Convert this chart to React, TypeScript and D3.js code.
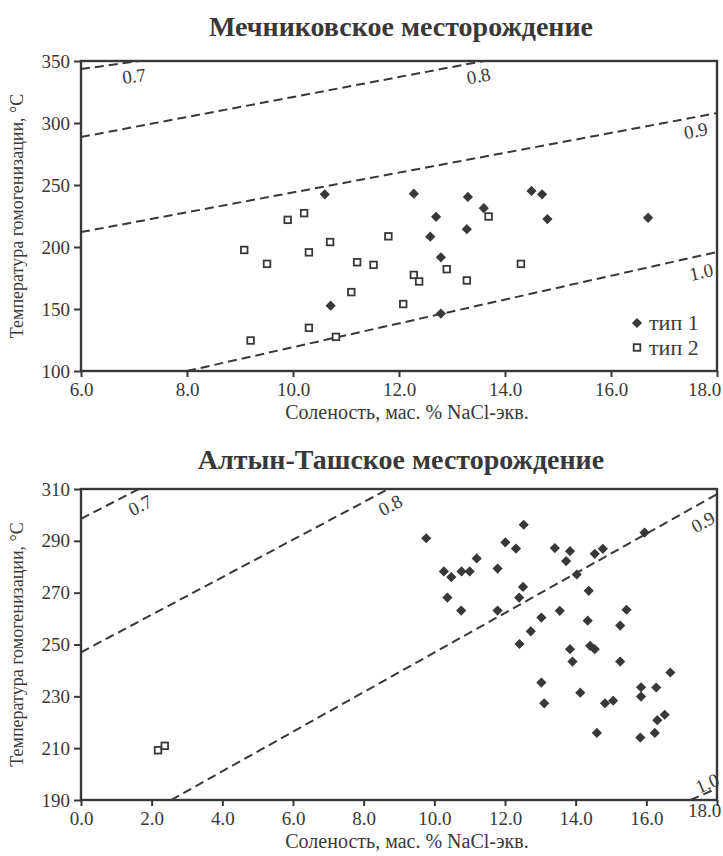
import { useEffect, useRef } from 'react'
import * as d3 from 'd3'

type Pt = [number, number]

// Мечниковское месторождение: [соленость, температура]
const mechType1: Pt[] = [
  [10.6, 242.5], [10.71, 152.7], [12.28, 243.0], [13.3, 240.4], [13.6, 231.3],
  [12.7, 224.3], [14.5, 245.2], [14.7, 242.5], [14.8, 222.5], [16.7, 223.5],
  [13.28, 214.4], [12.59, 208.3], [12.79, 191.7], [12.79, 146.3],
]
const mechType2: Pt[] = [
  [9.9, 221.9], [10.21, 227.3], [9.08, 197.6], [9.51, 186.4], [10.3, 195.7],
  [10.7, 204.0], [11.8, 208.6], [11.21, 187.7], [11.52, 185.6], [11.1, 163.6],
  [9.2, 124.6], [10.3, 134.8], [10.81, 127.5], [13.69, 224.6], [12.9, 182.1],
  [12.28, 177.5], [12.38, 172.2], [13.28, 173.0], [14.3, 186.4], [12.08, 154.0],
]
const mechIsoLines: Pt[][] = [
  [[6, 343.5], [7.1, 350]],
  [[6, 288.7], [13.6, 350]],
  [[6, 212], [18, 308]],
  [[8, 100], [18, 196]],
]
const mechIsoLabelPos: Pt[] = [[7.0, 338], [13.5, 338], [17.6, 294], [17.7, 180]]
const mechXTicks = [6, 8, 10, 12, 14, 16, 18]
const mechYTicks = [100, 150, 200, 250, 300, 350]

// Алтын-Ташское месторождение
const altType1: Pt[] = [
  [9.77, 291.0], [12.53, 296.2], [10.27, 278.2], [10.48, 276.0], [10.77, 278.2],
  [11.0, 278.2], [11.2, 283.2], [12.01, 289.4], [12.31, 287.0], [11.79, 279.3],
  [13.41, 287.2], [13.84, 286.0], [13.73, 282.2], [14.54, 285.0], [14.77, 286.9],
  [15.95, 293.2], [14.03, 277.0], [12.51, 272.2], [12.4, 268.1], [10.37, 268.1],
  [10.76, 263.1], [11.79, 263.1], [14.37, 270.7], [13.03, 260.4], [13.55, 263.0],
  [12.73, 255.1], [14.34, 259.2], [15.44, 263.4], [15.26, 257.3], [12.41, 250.2],
  [13.84, 248.2], [14.41, 249.5], [14.54, 248.2], [13.91, 243.4], [15.26, 243.4],
  [16.68, 239.2], [13.03, 235.3], [15.85, 233.5], [16.28, 233.4], [15.85, 229.9],
  [14.13, 231.4], [13.11, 227.3], [14.83, 227.3], [15.06, 228.3], [14.6, 215.9],
  [15.83, 214.1], [16.24, 215.9], [16.31, 220.8], [16.52, 222.9],
]
const altType2: Pt[] = [[2.18, 209.2], [2.37, 210.9]]
const altIsoLines: Pt[][] = [
  [[0, 298.5], [1.64, 310]],
  [[0, 247], [8.7, 310]],
  [[2.55, 190], [18, 308]],
  [[17.25, 190], [18, 194.5]],
]
const altIsoLabelPos: Pt[] = [[1.67, 303.8], [8.75, 303.8], [17.6, 297.3], [17.72, 196.5]]
const altXTicks = [0, 2, 4, 6, 8, 10, 12, 14, 16, 18]
const altYTicks = [190, 210, 230, 250, 270, 290, 310]

const isoLabels = ['0.7', '0.8', '0.9', '1.0']

const INK = '#383838'
const FONT = "'Liberation Serif', 'Times New Roman', serif"
const X_TITLE = 'Соленость, мас. % NaCl-экв.'
const Y_TITLE = 'Температура гомогенизации, °С'

interface PanelCfg {
  id: string
  title: string
  titleY: number
  top: number
  bottom: number
  xDomain: Pt
  yDomain: Pt
  xTicks: number[]
  yTicks: number[]
  type1: Pt[]
  type2: Pt[]
  iso: Pt[][]
  isoPos: Pt[]
  legend: boolean
  lastX: Pt // сдвиг подписи последнего деления по x (dx, dy)
}

const L = 81, R = 717

function drawPanel(svg: d3.Selection<SVGSVGElement, unknown, null, undefined>, c: PanelCfg) {
  const x = d3.scaleLinear().domain(c.xDomain).range([L, R])
  const y = d3.scaleLinear().domain(c.yDomain).range([c.bottom, c.top])
  const g = svg.append('g')

  g.append('clipPath').attr('id', 'clip-' + c.id)
    .append('rect').attr('x', L).attr('y', c.top).attr('width', R - L).attr('height', c.bottom - c.top)

  g.append('text')
    .attr('x', (L + R) / 2 + 2).attr('y', c.titleY)
    .attr('text-anchor', 'middle')
    .attr('font-family', FONT).attr('font-weight', 700).attr('font-size', 28)
    .attr('fill', INK)
    .text(c.title)

  // изохоры
  const line = d3.line<Pt>().x(d => x(d[0])).y(d => y(d[1]))
  g.append('g').attr('clip-path', `url(#clip-${c.id})`)
    .selectAll('path')
    .data(c.iso)
    .join('path')
    .attr('d', d => line(d))
    .attr('fill', 'none')
    .attr('stroke', INK)
    .attr('stroke-width', 2)
    .attr('stroke-dasharray', '9,5')

  g.selectAll('.iso-label')
    .data(c.isoPos)
    .join('text')
    .attr('class', 'iso-label')
    .attr('transform', (d, i) => {
      const seg = c.iso[i]
      const ang = Math.atan2(y(seg[1][1]) - y(seg[0][1]), x(seg[1][0]) - x(seg[0][0])) * 180 / Math.PI
      return `translate(${x(d[0])},${y(d[1])}) rotate(${ang})`
    })
    .attr('text-anchor', 'middle')
    .attr('dy', '0.35em')
    .attr('font-family', FONT).attr('font-size', 19)
    .attr('fill', INK)
    .text((_, i) => isoLabels[i])

  // точки
  const diamond = d3.symbol().type(d3.symbolSquare).size(52)
  g.selectAll('.t1')
    .data(c.type1)
    .join('path')
    .attr('class', 't1')
    .attr('d', diamond)
    .attr('transform', d => `translate(${x(d[0])},${y(d[1])}) rotate(45)`)
    .attr('fill', INK)

  g.selectAll('.t2')
    .data(c.type2)
    .join('rect')
    .attr('class', 't2')
    .attr('x', d => x(d[0]) - 3.3).attr('y', d => y(d[1]) - 3.3)
    .attr('width', 6.6).attr('height', 6.6)
    .attr('fill', '#fff').attr('stroke', INK).attr('stroke-width', 1.8)

  // рамка
  g.append('rect')
    .attr('x', L).attr('y', c.top).attr('width', R - L).attr('height', c.bottom - c.top)
    .attr('fill', 'none').attr('stroke', INK).attr('stroke-width', 2.4)

  const xAxis = g.append('g')
    .attr('transform', `translate(0,${c.bottom})`)
    .call(d3.axisBottom(x).tickValues(c.xTicks).tickFormat(d3.format('.1f')).tickSize(6).tickPadding(6))
  const yAxis = g.append('g')
    .attr('transform', `translate(${L},0)`)
    .call(d3.axisLeft(y).tickValues(c.yTicks).tickFormat(d3.format('d')).tickSize(7).tickPadding(4))

  for (const ax of [xAxis, yAxis]) {
    ax.attr('font-family', FONT)
    ax.select('.domain').remove()
    ax.selectAll('line').attr('stroke', INK).attr('stroke-width', 2)
    ax.selectAll('text').attr('font-family', FONT).attr('font-size', 19).attr('fill', INK)
  }
  xAxis.selectAll<SVGTextElement, number>('text')
    .filter(d => d === c.xTicks[c.xTicks.length - 1])
    .attr('dx', c.lastX[0])
    .attr('y', 12 + c.lastX[1])

  g.append('text')
    .attr('x', (L + R) / 2 + 8).attr('y', c.bottom + 48)
    .attr('text-anchor', 'middle')
    .attr('font-family', FONT).attr('font-size', 20).attr('fill', INK)
    .text(X_TITLE)

  g.append('text')
    .attr('transform', `translate(23,${(c.top + c.bottom) / 2}) rotate(-90)`)
    .attr('text-anchor', 'middle')
    .attr('font-family', FONT).attr('font-size', 18).attr('fill', INK)
    .text(Y_TITLE)

  if (c.legend) {
    const lg = g.append('g')
    const lx = 637, ly = 323
    lg.append('path').attr('d', diamond).attr('transform', `translate(${lx},${ly}) rotate(45)`).attr('fill', INK)
    lg.append('rect').attr('x', lx - 3.3).attr('y', ly + 24.5 - 3.3).attr('width', 6.6).attr('height', 6.6)
      .attr('fill', '#fff').attr('stroke', INK).attr('stroke-width', 1.8)
    lg.selectAll('text')
      .data(['тип 1', 'тип 2'])
      .join('text')
      .attr('x', lx + 12).attr('y', (_, i) => ly + 7 + i * 24.5)
      .attr('font-family', FONT).attr('font-size', 22).attr('fill', INK)
      .text(d => d)
  }
}

export default function App() {
  const svgRef = useRef<SVGSVGElement>(null)

  useEffect(() => {
    if (!svgRef.current) return
    const svg = d3.select(svgRef.current)
    svg.selectAll('*').remove()
    drawPanel(svg, {
      id: 'mech', title: 'Мечниковское месторождение', titleY: 36,
      top: 61, bottom: 371, xDomain: [6, 18], yDomain: [100, 350],
      xTicks: mechXTicks, yTicks: mechYTicks,
      type1: mechType1, type2: mechType2,
      iso: mechIsoLines, isoPos: mechIsoLabelPos, legend: true, lastX: [-13, 0],
    })
    drawPanel(svg, {
      id: 'alt', title: 'Алтын-Ташское месторождение', titleY: 469,
      top: 489, bottom: 800, xDomain: [0, 18], yDomain: [190, 310],
      xTicks: altXTicks, yTicks: altYTicks,
      type1: altType1, type2: altType2,
      iso: altIsoLines, isoPos: altIsoLabelPos, legend: false, lastX: [-13, -9],
    })
  }, [])

  return (
    <>
      <style>{'body{margin:0}'}</style>
      <svg ref={svgRef} width={723} height={856} style={{ display: 'block', background: '#fff' }} />
    </>
  )
}
